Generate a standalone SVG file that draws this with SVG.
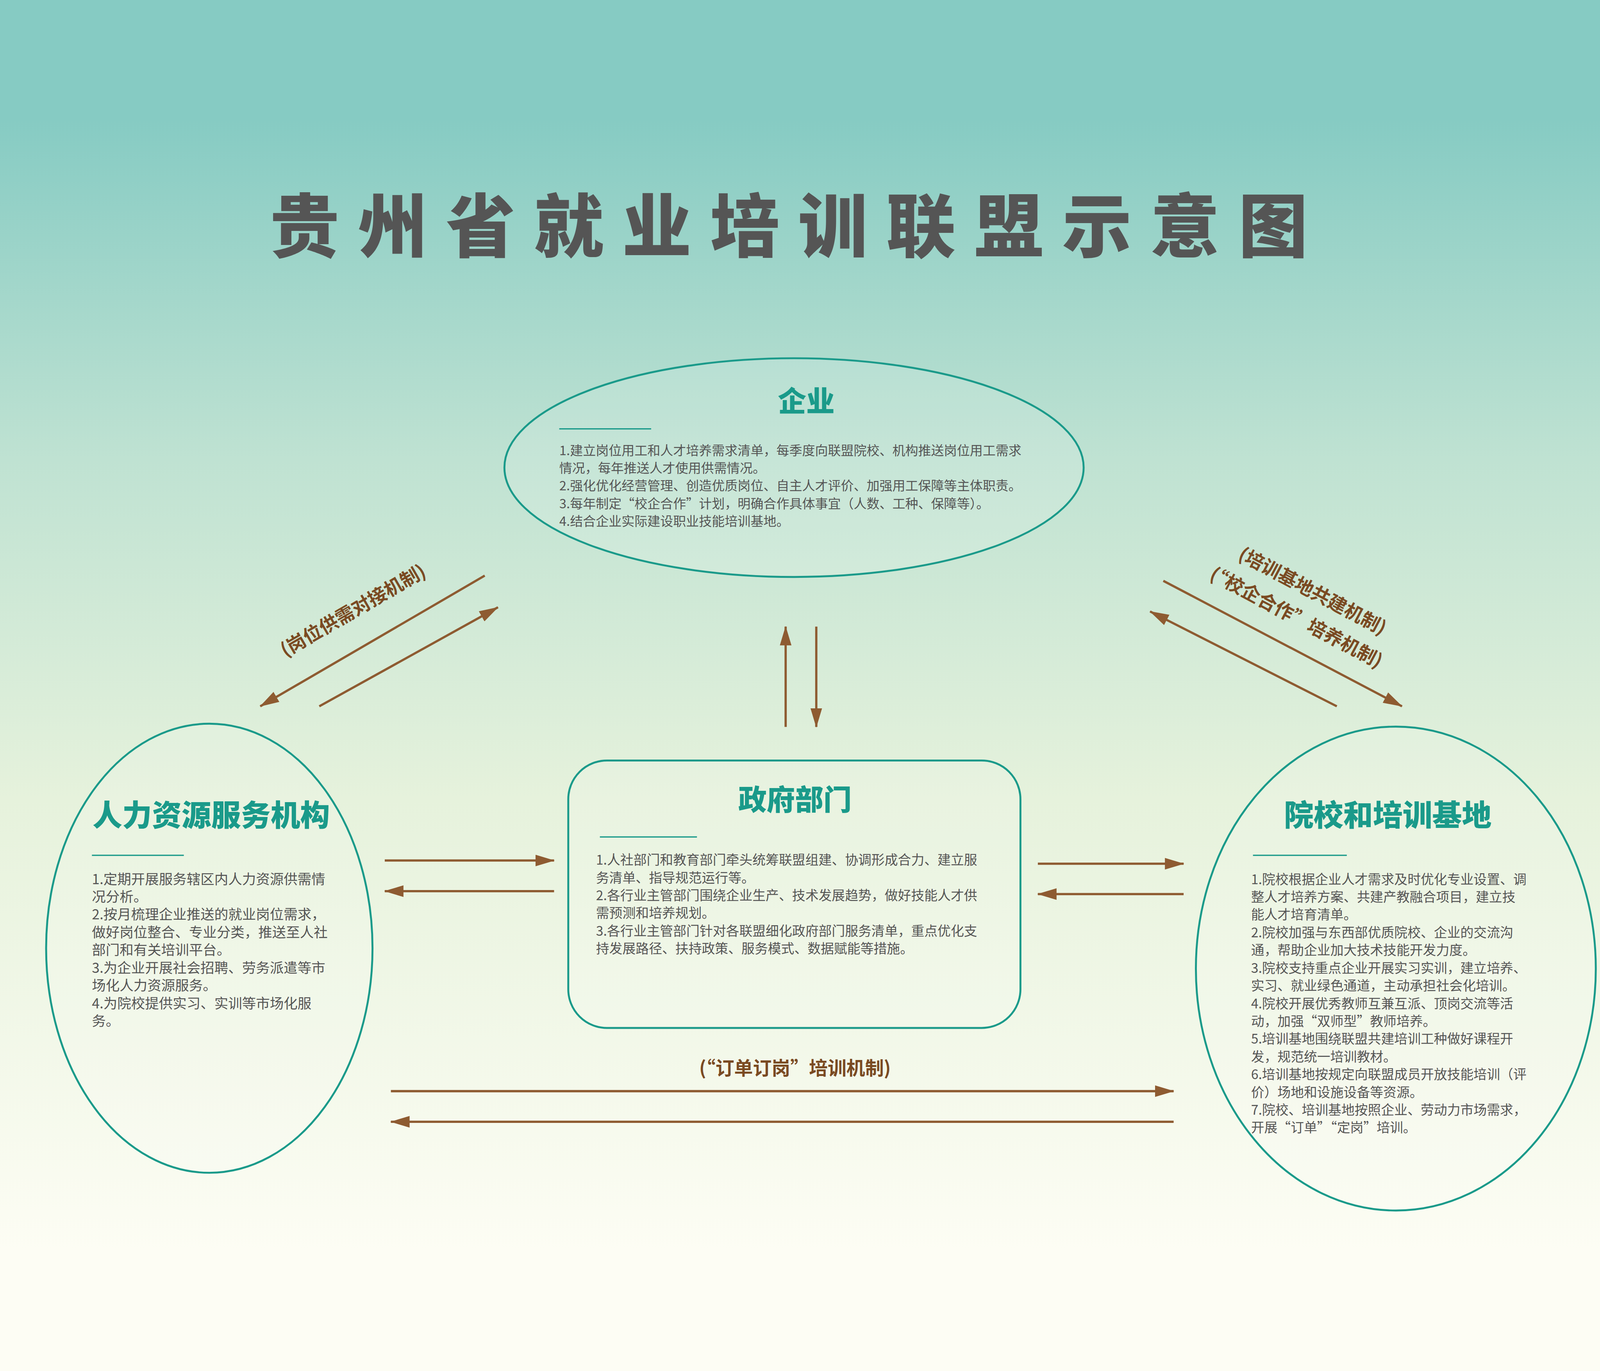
<svg xmlns="http://www.w3.org/2000/svg" width="4961" height="3509" viewBox="0 0 4961 3509" style="max-width:100vw;max-height:100vh;background:linear-gradient(#86cbc3 50%, #fdfdf4 50%)">
<defs>
<linearGradient id="bg" x1="0" y1="0" x2="0" y2="1">
<stop offset="0" stop-color="#86cbc3"/>
<stop offset="0.3" stop-color="#bfe2d2"/>
<stop offset="0.6" stop-color="#e6f2dc"/>
<stop offset="1" stop-color="#fdfdf4"/>
</linearGradient>
<marker id="ah" viewBox="0 0 60 36" refX="58" refY="18" markerWidth="60" markerHeight="36" markerUnits="userSpaceOnUse" orient="auto">
<path d="M0,0 L60,18 L0,36 Z" fill="#8e5b31"/>
</marker>
<style>
.node{fill:#ffffff;fill-opacity:0.12;stroke:#1a9a8a;stroke-width:6}
.ttl{font-family:"Noto Sans CJK SC",sans-serif;font-weight:900;fill:#1a9a8a;text-anchor:middle}
.ul{stroke:#1a9a8a;stroke-width:4}
.body{font-family:"Noto Sans CJK SC",sans-serif;fill:#555555}
.con{stroke:#8e5b31;stroke-width:7;fill:none;marker-end:url(#ah)}
.lbl{font-family:"Noto Sans CJK SC",sans-serif;font-weight:700;fill:#7a4a22;font-size:58px;text-anchor:middle}
</style>
</defs>
<rect width="4961" height="3509" fill="url(#bg)"/>
<text x="2475" y="410" text-anchor="middle" font-family="Noto Sans CJK SC, sans-serif" font-weight="900" font-size="215" letter-spacing="58" fill="#555555">贵州省就业培训联盟示意图</text>

<g id="enterprise">
<ellipse class="node" cx="2462" cy="1079" rx="898" ry="339"/>
<text class="ttl" x="2500" y="905" font-size="88">企业</text>
<line class="ul" x1="1734" y1="959" x2="2019" y2="959"/>
<g class="body" font-size="40">
<text x="1734" y="1040">1.建立岗位用工和人才培养需求清单，每季度向联盟院校、机构推送岗位用工需求</text>
<text x="1734" y="1095">情况，每年推送人才使用供需情况。</text>
<text x="1734" y="1150">2.强化优化经营管理、创造优质岗位、自主人才评价、加强用工保障等主体职责。</text>
<text x="1734" y="1205">3.每年制定“校企合作”计划，明确合作具体事宜（人数、工种、保障等）。</text>
<text x="1734" y="1260">4.结合企业实际建设职业技能培训基地。</text>
</g>
</g>

<g id="hr">
<ellipse class="node" cx="649" cy="2569" rx="506" ry="696"/>
<text class="ttl" x="655" y="2190" font-size="92">人力资源服务机构</text>
<line class="ul" x1="285" y1="2281" x2="570" y2="2281"/>
<g class="body" font-size="43">
<text x="285" y="2370">1.定期开展服务辖区内人力资源供需情</text>
<text x="285" y="2425">况分析。</text>
<text x="285" y="2480">2.按月梳理企业推送的就业岗位需求，</text>
<text x="285" y="2535">做好岗位整合、专业分类，推送至人社</text>
<text x="285" y="2590">部门和有关培训平台。</text>
<text x="285" y="2645">3.为企业开展社会招聘、劳务派遣等市</text>
<text x="285" y="2700">场化人力资源服务。</text>
<text x="285" y="2755">4.为院校提供实习、实训等市场化服</text>
<text x="285" y="2810">务。</text>
</g>
</g>

<g id="gov">
<rect class="node" x="1762" y="1987" width="1402" height="829" rx="120"/>
<text class="ttl" x="2465" y="2140" font-size="88">政府部门</text>
<line class="ul" x1="1860" y1="2224" x2="2161" y2="2224"/>
<g class="body" font-size="41">
<text x="1848" y="2310">1.人社部门和教育部门牵头统筹联盟组建、协调形成合力、建立服</text>
<text x="1848" y="2365">务清单、指导规范运行等。</text>
<text x="1848" y="2420">2.各行业主管部门围绕企业生产、技术发展趋势，做好技能人才供</text>
<text x="1848" y="2475">需预测和培养规划。</text>
<text x="1848" y="2530">3.各行业主管部门针对各联盟细化政府部门服务清单，重点优化支</text>
<text x="1848" y="2585">持发展路径、扶持政策、服务模式、数据赋能等措施。</text>
</g>
</g>

<g id="school">
<ellipse class="node" cx="4328" cy="2632" rx="620" ry="750"/>
<text class="ttl" x="4303" y="2190" font-size="92">院校和培训基地</text>
<line class="ul" x1="3885" y1="2281" x2="4176" y2="2281"/>
<g class="body" font-size="41">
<text x="3879" y="2370">1.院校根据企业人才需求及时优化专业设置、调</text>
<text x="3879" y="2425">整人才培养方案、共建产教融合项目，建立技</text>
<text x="3879" y="2480">能人才培育清单。</text>
<text x="3879" y="2535">2.院校加强与东西部优质院校、企业的交流沟</text>
<text x="3879" y="2590">通，帮助企业加大技术技能开发力度。</text>
<text x="3879" y="2645">3.院校支持重点企业开展实习实训，建立培养、</text>
<text x="3879" y="2700">实习、就业绿色通道，主动承担社会化培训。</text>
<text x="3879" y="2755">4.院校开展优秀教师互兼互派、顶岗交流等活</text>
<text x="3879" y="2810">动，加强“双师型”教师培养。</text>
<text x="3879" y="2865">5.培训基地围绕联盟共建培训工种做好课程开</text>
<text x="3879" y="2920">发，规范统一培训教材。</text>
<text x="3879" y="2975">6.培训基地按规定向联盟成员开放技能培训（评</text>
<text x="3879" y="3030">价）场地和设施设备等资源。</text>
<text x="3879" y="3085">7.院校、培训基地按照企业、劳动力市场需求，</text>
<text x="3879" y="3140">开展“订单”“定岗”培训。</text>
</g>
</g>

<g id="connectors">
<line class="con" x1="2436" y1="1883" x2="2436" y2="1572"/>
<line class="con" x1="2531" y1="1572" x2="2531" y2="1883"/>
<line class="con" x1="1503" y1="1414" x2="807" y2="1819"/>
<line class="con" x1="990" y1="1819" x2="1544" y2="1512"/>
<line class="con" x1="4145" y1="1819" x2="3566" y2="1525"/>
<line class="con" x1="3607" y1="1430" x2="4347" y2="1819"/>
<line class="con" x1="1193" y1="2297" x2="1718" y2="2297"/>
<line class="con" x1="1718" y1="2392" x2="1193" y2="2392"/>
<line class="con" x1="3218" y1="2307" x2="3670" y2="2307"/>
<line class="con" x1="3670" y1="2401" x2="3218" y2="2401"/>
<line class="con" x1="1212" y1="3012" x2="3639" y2="3012"/>
<line class="con" x1="3639" y1="3107" x2="1212" y2="3107"/>
<text class="lbl" transform="translate(1105,1540) rotate(-30)">(岗位供需对接机制)</text>
<text class="lbl" transform="translate(4060,1480) rotate(28)">(培训基地共建机制)</text>
<text class="lbl" transform="translate(4010,1562) rotate(28)">(“校企合作”培养机制)</text>
<text class="lbl" x="2465" y="2962">(“订单订岗”培训机制)</text>
</g>
</svg>
